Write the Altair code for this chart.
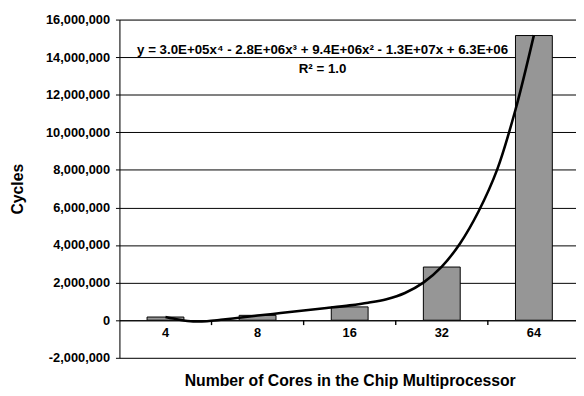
import altair as alt
import pandas as pd

cores = ["4", "8", "16", "32", "64"]
cycles = [170000, 260000, 710000, 2830000, 15150000]

# trendline (x = category position 1..5, y in cycles)
trend_pos = [1.0, 1.15, 1.3, 1.45, 1.6, 1.8, 2.0, 2.25, 2.5, 2.75, 3.0, 3.2,
             3.4, 3.6, 3.8, 4.0, 4.2, 4.4, 4.6, 4.8, 5.0]
trend_val = [170000, 30000, -60000, -50000, 20000, 130000, 250000, 380000,
             520000, 650000, 790000, 930000, 1120000, 1450000, 2000000,
             2850000, 4100000, 5800000, 8000000, 11200000, 15170000]

y_ticks = list(range(-2000000, 16000001, 2000000))
# category-axis tick marks sit between categories
x_tick_pos = [1.5, 2.5, 3.5, 4.5]
x_tick_top = [0, 0, 0, 0]
x_tick_bottom = [-260000, -260000, -260000, -260000]
equation = "y = 3.0E+05x⁴ - 2.8E+06x³ + 9.4E+06x² - 1.3E+07x + 6.3E+06"
r2_text = "R² = 1.0"

bars_df = pd.DataFrame({"cores": cores, "cycles": cycles})
trend_df = pd.DataFrame({"pos": trend_pos, "cycles": trend_val})
ticks_df = pd.DataFrame({"tpos": x_tick_pos, "ttop": x_tick_top, "tbottom": x_tick_bottom})

FONT = "Liberation Sans"
W, H = 463, 343
RANGE = [0, 467]
ydom = [-2000000, 16000000]
zero_offset = -(H - H * 16 / 18)

yaxis = alt.Axis(
    values=y_ticks,
    labelExpr="(datum.value < 0 ? '-' : '') + format(abs(datum.value), ',')",
    title="Cycles",
    titleFont=FONT, titleFontSize=16, titleFontWeight="bold",
    titleX=-103, titleY=H / 2, titleAlign="center", titleBaseline="middle",
    titleAngle=-90,
    labelFont=FONT, labelFontSize=13, labelFontWeight="bold", labelColor="black",
    labelPadding=6, tickSize=4, tickColor="black", domainColor="black",
    grid=True, gridColor="black", gridWidth=1, gridOpacity=1,
)
yscale = alt.Scale(domain=ydom, nice=False, zero=False)
xq_scale = alt.Scale(domain=[0.5, 5.5], range=RANGE, nice=False, zero=False)

bars = alt.Chart(bars_df).mark_bar(
    color="#969696", stroke="black", strokeWidth=1
).encode(
    x=alt.X(
        "cores:N", sort=cores,
        scale=alt.Scale(range=RANGE, paddingInner=0.6, paddingOuter=0.3),
        axis=alt.Axis(
            orient="bottom", ticks=False, offset=zero_offset, labelAngle=0,
            title="Number of Cores in the Chip Multiprocessor",
            titleFont=FONT, titleFontSize=16, titleFontWeight="bold",
            titleX=233.5, titleY=66, titleBaseline="alphabetic",
            titleAlign="center",
            labelFont=FONT, labelFontSize=13, labelFontWeight="bold",
            labelColor="black", labelPadding=7,
            domainColor="black", grid=False,
        ),
    ),
    y=alt.Y("cycles:Q", scale=yscale, axis=yaxis),
)

tickmarks = alt.Chart(ticks_df).mark_rule(color="black", strokeWidth=1.4).encode(
    x=alt.X("tpos:Q", scale=xq_scale, axis=None),
    y=alt.Y("ttop:Q", scale=yscale, axis=yaxis),
    y2=alt.Y2("tbottom"),
)

trend = alt.Chart(trend_df).mark_line(
    color="black", strokeWidth=2.6, interpolate="catmull-rom"
).encode(
    x=alt.X("pos:Q", scale=xq_scale, axis=None),
    y=alt.Y("cycles:Q", scale=yscale, axis=yaxis),
)

eq = alt.Chart(pd.DataFrame({"t": [equation]})).mark_text(
    font=FONT, fontSize=13.5, fontWeight="bold", color="black",
    align="center", baseline="alphabetic",
).encode(text="t:N", x=alt.value(206), y=alt.value(35))

r2 = alt.Chart(pd.DataFrame({"t": [r2_text]})).mark_text(
    font=FONT, fontSize=13.5, fontWeight="bold", color="black",
    align="center", baseline="alphabetic",
).encode(text="t:N", x=alt.value(206), y=alt.value(54))

chart = alt.layer(bars, trend, tickmarks, eq, r2).resolve_scale(x="independent").properties(
    width=W, height=H,
    autosize=alt.AutoSizeParams(type="none"),
    padding={"left": 113, "top": 9, "right": 0, "bottom": 36},
).configure_view(strokeWidth=0).configure(background="white")

chart.save("out.html", embed_options={"renderer": "svg", "actions": False})
